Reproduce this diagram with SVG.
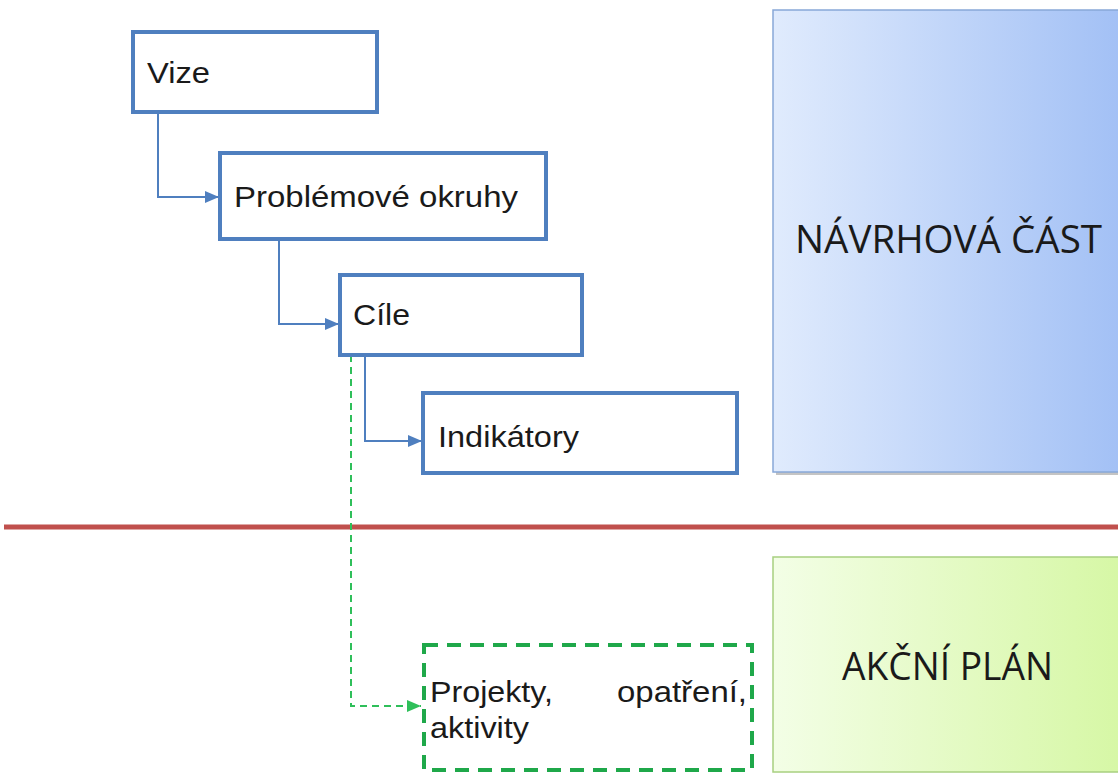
<svg xmlns="http://www.w3.org/2000/svg" width="1118" height="783" viewBox="0 0 1118 783">
<style>
.box{fill:#fff;stroke:#4f7fbf;stroke-width:4}
.t{font-family:"Liberation Sans",Arial,sans-serif;font-size:30px;fill:#1a1a1a}
.big{font-family:"Open Sans","Noto Sans",sans-serif;font-size:38px;fill:#1a1a1a}
.conn{fill:none;stroke:#4f7fbf;stroke-width:2}
.gconn{fill:none;stroke:#2fbf5a;stroke-width:2;stroke-dasharray:7 5}
</style>
<defs>
<marker id="ab" viewBox="0 0 14 12" refX="14" refY="6" markerWidth="7" markerHeight="6" orient="auto" markerUnits="strokeWidth"><path d="M0,0 L14,6 L0,12 z" fill="#4f7fbf"/></marker>
<marker id="ag" viewBox="0 0 14 12" refX="14" refY="6" markerWidth="7" markerHeight="6" orient="auto" markerUnits="strokeWidth"><path d="M0,0 L14,6 L0,12 z" fill="#2fbf5a"/></marker>
<linearGradient id="gb" x1="0" y1="0" x2="1" y2="0"><stop offset="0" stop-color="#e0ebfd"/><stop offset="1" stop-color="#a2c0f5"/></linearGradient>
<linearGradient id="gg" x1="0" y1="0" x2="1" y2="0"><stop offset="0" stop-color="#f3fee6"/><stop offset="1" stop-color="#d6f7a5"/></linearGradient>
</defs>
<rect width="1118" height="783" fill="#fff"/>
<line x1="4" y1="527" x2="1118" y2="527" stroke="#c0504d" stroke-width="5"/>
<g id="navrhova">
<rect x="776" y="13" width="350" height="462" fill="#8a8a8a" opacity="0.5"/>
<rect x="773" y="10" width="350" height="462" fill="url(#gb)" stroke="#88a8d8" stroke-width="1.5"/>
<text class="big" x="795" y="253" textLength="307" lengthAdjust="spacingAndGlyphs">NÁVRHOVÁ ČÁST</text>
</g>
<g id="akcni">
<rect x="773" y="557" width="350" height="215" fill="url(#gg)" stroke="#a8d080" stroke-width="1.5"/>
<text class="big" x="842" y="680" textLength="211" lengthAdjust="spacingAndGlyphs">AKČNÍ PLÁN</text>
</g>
<g id="connectors">
<path class="conn" d="M158,112 V197 H219" marker-end="url(#ab)"/>
<path class="conn" d="M279,239 V324 H339" marker-end="url(#ab)"/>
<path class="conn" d="M365,355 V441 H422" marker-end="url(#ab)"/>
<path class="gconn" d="M351,355 V706 H421" marker-end="url(#ag)"/>
</g>
<g id="vize">
<rect class="box" x="133" y="32" width="244" height="80"/>
<text class="t" x="147" y="83" textLength="63" lengthAdjust="spacingAndGlyphs">Vize</text>
</g>
<g id="problemove">
<rect class="box" x="220" y="153" width="326" height="86"/>
<text class="t" x="234" y="207" textLength="284" lengthAdjust="spacingAndGlyphs">Problémové okruhy</text>
</g>
<g id="cile">
<rect class="box" x="340" y="275" width="242" height="80"/>
<text class="t" x="353" y="325" textLength="57" lengthAdjust="spacingAndGlyphs">Cíle</text>
</g>
<g id="indikatory">
<rect class="box" x="423" y="393" width="314" height="80"/>
<text class="t" x="438" y="447" textLength="141" lengthAdjust="spacingAndGlyphs">Indikátory</text>
</g>
<g id="projekty">
<rect x="424" y="645" width="328" height="125" fill="#fff" stroke="#1fa84a" stroke-width="4" stroke-dasharray="14 9"/>
<text class="t" x="430" y="702" textLength="123" lengthAdjust="spacingAndGlyphs">Projekty,</text>
<text class="t" x="617" y="702" textLength="130" lengthAdjust="spacingAndGlyphs">opatření,</text>
<text class="t" x="430" y="738" textLength="99" lengthAdjust="spacingAndGlyphs">aktivity</text>
</g>
</svg>
